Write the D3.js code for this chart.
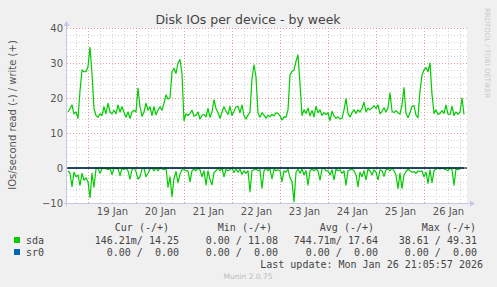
<!DOCTYPE html>
<html>
<head>
<meta charset="utf-8">
<script src="https://cdn.jsdelivr.net/npm/d3@7"></script>
<style>
  body { margin: 0; background: #f0f0f0; }
  svg { display: block; }
  text { font-family: 'DejaVu Sans', sans-serif; fill: #555; }
  .mono { font-family: 'DejaVu Sans Mono', monospace; font-size: 10px; fill: #444; white-space: pre; }
</style>
</head>
<body>
<svg width="497" height="287"></svg>
<script>
// hourly samples, first one at 18 Jan 14:00 UTC
const firstSample = Date.UTC(2026, 0, 18, 14)
const sdaWrite = [
  16, 17, 18, 15.5, 16, 14.2, 22, 28, 27.5, 27.5, 29, 34.5, 27, 17, 15, 14.5, 15.5, 15, 17.5, 15.5, 18.5, 16, 15.5, 16.5, 15.5, 18, 16, 17.5,
  16, 14.5, 16, 14.2, 16, 16.5, 16, 22.8, 17.5, 14.8, 16, 18.5, 16.5, 17.5, 15, 17.5, 15.2, 16.5, 17.5, 16.5, 18.5, 20.9, 19.7, 20, 27.5, 28.5, 27, 30, 31, 27,
  13.5, 15.5, 15, 15.6, 16.5, 14.8, 15.1, 16, 14, 15, 15.3, 14.6, 17, 14.5, 16, 19.5, 17, 15.8, 14.2, 16, 17.5, 16.2, 15.3, 17.6, 15, 16.2, 17.5, 17.6,
  15.8, 18, 15, 14, 15.1, 16, 25.5, 29.5, 26, 15.6, 14.5, 15.8, 15.1, 14.2, 15.1, 14.6, 15.3, 14.9, 15.8, 15.6, 14.9, 13.7, 14.6, 14.5, 16.6, 26.6, 27.6, 28, 30.5, 32.3,
  24, 15, 16.6, 15.6, 17.1, 14.9, 16.4, 14.6, 17.6, 15.8, 16.6, 15, 15.8, 15.3, 15.8, 13.5, 16.2, 14.9, 14.2, 14.6, 14, 14.2, 16.6, 19.8, 15.6, 14.6, 15.8, 16.6,
  15.6, 16.6, 16, 17, 18.8, 16, 17.1, 16.6, 17.2, 17.8, 17, 18, 15.5, 16.2, 17.2, 16, 17.2, 21.5, 16.2, 15.8, 16.4, 15.8, 15.4, 18, 23, 15.6, 14.4, 15.8,
  17.6, 17.8, 15.1, 14.4, 22, 26.6, 28, 28.7, 27.5, 30, 21, 15.6, 16.6, 15.3, 15.6, 16.4, 15.6, 18, 15.4, 15.3, 17.6, 15, 16, 15.3, 16, 20, 15.3,
]
const sdaRead = [
  0.8, 1.5, 5.3, 1.2, 2.5, 2, 5, 1.5, 3.5, 2.8, 4, 8.5, 1.5, 5.5, 0.3, 0, 1.5, 0.2, 0, 0.2, 0.5, 0, 1.9, 0, 0.2, 0.1, 2.2, 0,
  0.5, 0, 0.8, 3.2, 0.5, 0, 1, 3.2, 2.5, 0.3, 0, 2.5, 1.5, 0.3, 0, 0.8, 0, 0.8, 0, 0.3, 0.5, 0, 5.5, 2.5, 8.2, 3, 1, 4.2, 1.8, 0.5,
  0.5, 0.8, 0.8, 3.9, 0.8, 0.3, 0.8, 0, 0.5, 2.5, 0.8, 4.8, 0.8, 3.3, 4.8, 1.3, 0.8, 0, 0.8, 0, 2.5, 0.4, 0.8, 0.4, 0, 1.3,
  0.3, 1.2, 0.3, 1.8, 0.8, 1.5, 0.8, 6.8, 0.8, 0.5, 0.3, 0.8, 0.5, 5.8, 0.8, 0, 0.8, 0.3, 3.1, 0.3, 0.8, 0.5, 0.8, 3.9, 0.8, 1.2, 0.3, 2.8, 3.9, 9.6,
  1.2, 0.3, 1.5, 0.3, 2, 0.8, 4.9, 0.8, 0.3, 0.8, 0.3, 0.8, 3.5, 0.3, 0, 0.8, 0.8, 2, 0.5, 3.4, 0.3, 0.8, 0.5, 1.5, 0.8, 4.9, 0.8, 0.5,
  0.3, 0.8, 2, 5.3, 1.2, 2.5, 0.8, 3.4, 0.3, 0.8, 2, 0.5, 1.2, 3.4, 0.5, 0.8, 2.4, 0.5, 0.3, 0.8, 0, 0.8, 2, 5.8, 1.5, 5.8, 2, 1,
  0.3, 0.8, 1.2, 1, 1.5, 0.8, 1, 0.8, 2.5, 1.2, 4.4, 0.5, 4.2, 0.8, 0.3, 0, 0.3, 0, 0.3, 0.5, 0.8, 0, 0.5, 4.9, 0.3, 0.5, 0.2,
]
// sr0 is idle all week
const sr0Write = [
  0, 0, 0, 0, 0, 0, 0, 0, 0, 0, 0, 0, 0, 0, 0, 0, 0, 0, 0, 0, 0, 0, 0, 0, 0, 0, 0, 0,
  0, 0, 0, 0, 0, 0, 0, 0, 0, 0, 0, 0, 0, 0, 0, 0, 0, 0, 0, 0, 0, 0, 0, 0, 0, 0, 0, 0, 0, 0,
  0, 0, 0, 0, 0, 0, 0, 0, 0, 0, 0, 0, 0, 0, 0, 0, 0, 0, 0, 0, 0, 0, 0, 0, 0, 0, 0, 0,
  0, 0, 0, 0, 0, 0, 0, 0, 0, 0, 0, 0, 0, 0, 0, 0, 0, 0, 0, 0, 0, 0, 0, 0, 0, 0, 0, 0, 0, 0,
  0, 0, 0, 0, 0, 0, 0, 0, 0, 0, 0, 0, 0, 0, 0, 0, 0, 0, 0, 0, 0, 0, 0, 0, 0, 0, 0, 0,
  0, 0, 0, 0, 0, 0, 0, 0, 0, 0, 0, 0, 0, 0, 0, 0, 0, 0, 0, 0, 0, 0, 0, 0, 0, 0, 0, 0,
  0, 0, 0, 0, 0, 0, 0, 0, 0, 0, 0, 0, 0, 0, 0, 0, 0, 0, 0, 0, 0, 0, 0, 0, 0, 0, 0,
]
const sr0Read = sr0Write

const yTicks = [-10, 0, 10, 20, 30, 40]
const dayLabels = ['19 Jan', '20 Jan', '21 Jan', '22 Jan', '23 Jan', '24 Jan', '25 Jan', '26 Jan']

const legendNames = ['sda', 'sr0']
const legendColors = ['#00cc00', '#0066b3']
const legendHeaders = ['Cur (-/+)', 'Min (-/+)', 'Avg (-/+)', 'Max (-/+)']
const curValues = ['146.21m/ 14.25', '0.00 /  0.00']
const minValues = ['0.00 / 11.08', '0.00 /  0.00']
const avgValues = ['744.71m/ 17.64', '0.00 /  0.00']
const maxValues = ['38.61 / 49.31', '0.00 /  0.00']

const svg = d3.select('svg')
const plotLeft = 67, plotRight = 467, plotTop = 28, plotBottom = 203

const x = d3
  .scaleUtc()
  .domain([Date.UTC(2026, 0, 18, 13, 30), Date.UTC(2026, 0, 26, 21, 30)])
  .range([plotLeft, plotRight])
const y = d3.scaleLinear().domain([-10, 40]).range([plotBottom, plotTop])
const hour = 3600 * 1000
const timeOf = (i) => new Date(firstSample + i * hour)

// plot canvas
svg
  .append('rect')
  .attr('x', plotLeft)
  .attr('y', plotTop)
  .attr('width', plotRight - plotLeft)
  .attr('height', plotBottom - plotTop)
  .attr('fill', 'white')

// minor grid
const grid = svg.append('g').attr('shape-rendering', 'crispEdges')
const sixHours = d3.utcHour.every(6).range(x.domain()[0], x.domain()[1])
grid
  .selectAll('.vminor')
  .data(sixHours.filter((d) => d.getUTCHours() != 0))
  .enter()
  .append('line')
  .attr('x1', (d) => Math.round(x(d)) + 0.5)
  .attr('x2', (d) => Math.round(x(d)) + 0.5)
  .attr('y1', plotTop)
  .attr('y2', plotBottom)
  .attr('stroke', '#d4d4d4')
  .attr('stroke-dasharray', '1,2')
grid
  .selectAll('.hminor')
  .data(d3.range(-10, 41, 2).filter((v) => v % 10 != 0))
  .enter()
  .append('line')
  .attr('x1', plotLeft)
  .attr('x2', plotRight)
  .attr('y1', (d) => Math.round(y(d)) + 0.5)
  .attr('y2', (d) => Math.round(y(d)) + 0.5)
  .attr('stroke', '#d4d4d4')
  .attr('stroke-dasharray', '1,2')

// major grid
grid
  .selectAll('.vmajor')
  .data(d3.utcDay.range(x.domain()[0], x.domain()[1]))
  .enter()
  .append('line')
  .attr('x1', (d) => Math.round(x(d)) + 0.5)
  .attr('x2', (d) => Math.round(x(d)) + 0.5)
  .attr('y1', plotTop)
  .attr('y2', plotBottom)
  .attr('stroke', '#e89a9a')
  .attr('stroke-dasharray', '1,2')
grid
  .selectAll('.hmajor')
  .data(yTicks)
  .enter()
  .append('line')
  .attr('x1', plotLeft)
  .attr('x2', plotRight)
  .attr('y1', (d) => Math.round(y(d)) + 0.5)
  .attr('y2', (d) => Math.round(y(d)) + 0.5)
  .attr('stroke', '#e89a9a')
  .attr('stroke-dasharray', '1,2')

// the series, reads drawn below zero
const line = d3
  .line()
  .x((d, i) => x(timeOf(i)))
  .y((d) => y(d))
function drawSeries(values, sign, color) {
  svg
    .append('path')
    .datum(values.map((v) => v * sign))
    .attr('fill', 'none')
    .attr('stroke', color)
    .attr('stroke-width', 1.2)
    .attr('stroke-linejoin', 'round')
    .attr('d', line)
}
drawSeries(sdaWrite, 1, legendColors[0])
drawSeries(sdaRead, -1, legendColors[0])
drawSeries(sr0Write, 1, legendColors[1])
drawSeries(sr0Read, -1, legendColors[1])

svg
  .append('line')
  .attr('x1', plotLeft)
  .attr('x2', plotRight)
  .attr('y1', y(0))
  .attr('y2', y(0))
  .attr('stroke', 'black')
  .attr('stroke-width', 1.2)

// axis lines with arrow heads
const axisColor = '#c6c6e6'
svg
  .append('line')
  .attr('x1', plotLeft - 0.5)
  .attr('x2', plotLeft - 0.5)
  .attr('y1', plotBottom + 3)
  .attr('y2', plotTop - 4)
  .attr('stroke', axisColor)
svg
  .append('line')
  .attr('x1', plotLeft - 3)
  .attr('x2', plotRight + 4)
  .attr('y1', plotBottom + 0.5)
  .attr('y2', plotBottom + 0.5)
  .attr('stroke', axisColor)
svg
  .append('path')
  .attr('d', `M${plotLeft - 3.5},${plotTop - 2} L${plotLeft - 0.5},${plotTop - 7} L${plotLeft + 2.5},${plotTop - 2} Z`)
  .attr('fill', axisColor)
svg
  .append('path')
  .attr('d', `M${plotRight + 3},${plotBottom - 2.5} L${plotRight + 8},${plotBottom + 0.5} L${plotRight + 3},${plotBottom + 3.5} Z`)
  .attr('fill', axisColor)

// tick labels
const yAxis = svg
  .append('g')
  .attr('transform', `translate(${plotLeft},0)`)
  .call(d3.axisLeft(y).tickValues(yTicks).tickSize(0).tickPadding(4))
yAxis.select('.domain').remove()
yAxis.selectAll('text').attr('font-size', 10).attr('font-family', 'DejaVu Sans').attr('fill', '#555')

const noons = dayLabels.map((d, i) => new Date(Date.UTC(2026, 0, 19 + i, 12)))
const xAxis = svg
  .append('g')
  .attr('transform', `translate(0,${plotBottom})`)
  .call(
    d3
      .axisBottom(x)
      .tickValues(noons)
      .tickFormat((d, i) => dayLabels[i])
      .tickSize(0)
      .tickPadding(5),
  )
xAxis.select('.domain').remove()
xAxis.selectAll('text').attr('font-size', 10).attr('font-family', 'DejaVu Sans').attr('fill', '#555')

// titles
svg
  .append('text')
  .attr('x', 248)
  .attr('y', 24)
  .attr('text-anchor', 'middle')
  .attr('font-size', 12.5)
  .style('fill', '#444')
  .text('Disk IOs per device - by week')
svg
  .append('text')
  .attr('transform', 'translate(16,115) rotate(-90)')
  .attr('text-anchor', 'middle')
  .attr('font-size', 10)
  .text('IOs/second read (-) / write (+)')
svg
  .append('text')
  .attr('transform', 'translate(485,53) rotate(90)')
  .attr('text-anchor', 'middle')
  .attr('font-size', 7)
  .style('fill', '#c8c8c8')
  .text('RRDTOOL / TOBI OETIKER')

// legend
const colEnds = [179, 278, 378, 477]
const headEnds = [169, 272, 374, 476]
legendHeaders.forEach((h, i) => {
  svg
    .append('text')
    .attr('class', 'mono')
    .attr('x', headEnds[i])
    .attr('y', 231)
    .attr('text-anchor', 'end')
    .text(h)
})
const columns = [curValues, minValues, avgValues, maxValues]
legendNames.forEach((name, r) => {
  const rowY = 244 + r * 12
  svg
    .append('rect')
    .attr('x', 14)
    .attr('y', rowY - 7)
    .attr('width', 6)
    .attr('height', 6)
    .attr('fill', legendColors[r])
  svg.append('text').attr('class', 'mono').attr('x', 26).attr('y', rowY).text(name)
  columns.forEach((col, c) => {
    svg
      .append('text')
      .attr('class', 'mono')
      .attr('x', colEnds[c])
      .attr('y', rowY)
      .attr('text-anchor', 'end')
      .text(col[r])
  })
})
svg
  .append('text')
  .attr('class', 'mono')
  .attr('x', 483)
  .attr('y', 268)
  .attr('text-anchor', 'end')
  .text('Last update: Mon Jan 26 21:05:57 2026')
svg
  .append('text')
  .attr('x', 248)
  .attr('y', 279)
  .attr('text-anchor', 'middle')
  .attr('font-size', 7.5)
  .style('fill', '#bbb')
  .text('Munin 2.0.75')
</script>
</body>
</html>
